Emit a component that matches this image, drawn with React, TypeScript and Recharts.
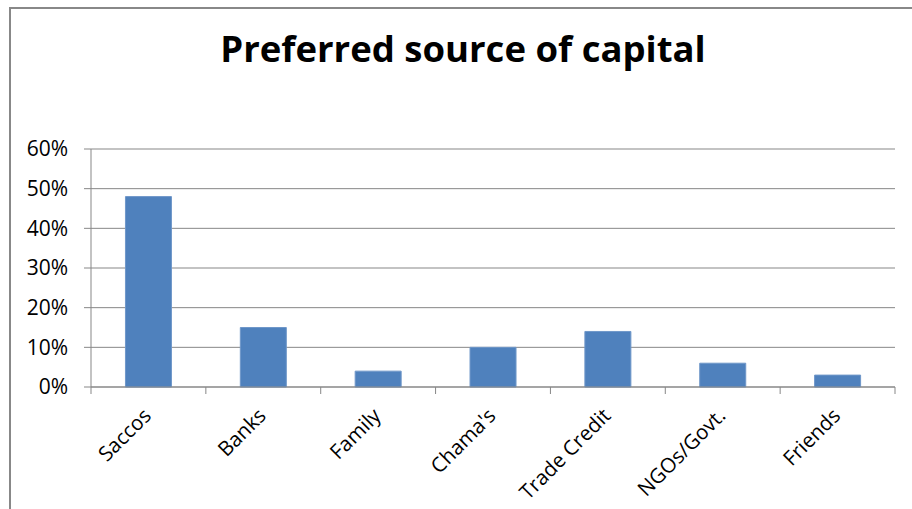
import React from 'react';
import { BarChart, Bar, XAxis, YAxis, CartesianGrid } from 'recharts';

const categories = ['Saccos', 'Banks', 'Family', "Chama's", 'Trade Credit', 'NGOs/Govt.', 'Friends'];
const shares = [0.48, 0.15, 0.04, 0.1, 0.14, 0.06, 0.03];
const yTicks = [0, 0.1, 0.2, 0.3, 0.4, 0.5, 0.6];

const data = categories.map((name, i) => ({ name, share: shares[i] }));

const FONT = '"Open Sans", Lato, sans-serif';
const GRID = '#878787';

// Excel-style category tick: label at 45 degrees, tick marks on the category boundaries
const CategoryTick = (props: any) => {
    const { x, y, payload, index, visibleTicksCount } = props;
    const half = payload.offset || 0;
    const last = index === (visibleTicksCount ?? categories.length) - 1;
    return (
        <g>
            <line x1={x - half} x2={x - half} y1={y} y2={y + 7} stroke={GRID} />
            {last && <line x1={x + half} x2={x + half} y1={y} y2={y + 7} stroke={GRID} />}
            <text
                x={x + 4}
                y={y + 30}
                textAnchor="end"
                fontSize={20.5}
                fontFamily={FONT}
                fill="#000"
                transform={`rotate(-45, ${x + 4}, ${y + 30})`}
            >
                {payload.value}
            </text>
        </g>
    );
};

export default function App() {
    return (
        <div style={{ position: 'absolute', left: 0, top: 0, width: 912, height: 509, overflow: 'hidden', background: '#fff' }}>
            <div
                style={{
                    position: 'absolute',
                    left: 9,
                    top: 7,
                    width: 920,
                    height: 530,
                    border: '2px solid #888',
                    boxSizing: 'border-box',
                }}
            />
            <div
                style={{
                    position: 'absolute',
                    left: 7,
                    width: 912,
                    top: 30,
                    textAlign: 'center',
                    fontFamily: FONT,
                    fontWeight: 700,
                    fontSize: 36.5,
                    lineHeight: '36.5px',
                    color: '#000',
                }}
            >
                Preferred source of capital
            </div>
            <div style={{ position: 'absolute', left: 0, top: 0 }}>
                <BarChart
                    width={912}
                    height={509}
                    data={data}
                    margin={{ top: 149, right: 17, bottom: 0, left: 0 }}
                    barCategoryGap="30%"
                >
                    <CartesianGrid vertical={false} stroke={GRID} />
                    <XAxis
                        dataKey="name"
                        height={122}
                        axisLine={{ stroke: GRID }}
                        tickLine={false}
                        tickSize={0}
                        tickMargin={0}
                        interval={0}
                        tick={<CategoryTick />}
                    />
                    <YAxis
                        width={91}
                        domain={[0, 0.6]}
                        ticks={yTicks}
                        interval={0}
                        tickFormatter={(v: number) => `${Math.round(v * 100)}%`}
                        axisLine={{ stroke: GRID }}
                        tickLine={{ stroke: GRID }}
                        tickSize={7}
                        tickMargin={16}
                        tick={{ fontSize: 21, fontFamily: FONT, fill: '#000' }}
                    />
                    <Bar dataKey="share" fill="#4F81BD" stroke="#6f97c9" strokeWidth={1} isAnimationActive={false} />
                </BarChart>
            </div>
        </div>
    );
}
